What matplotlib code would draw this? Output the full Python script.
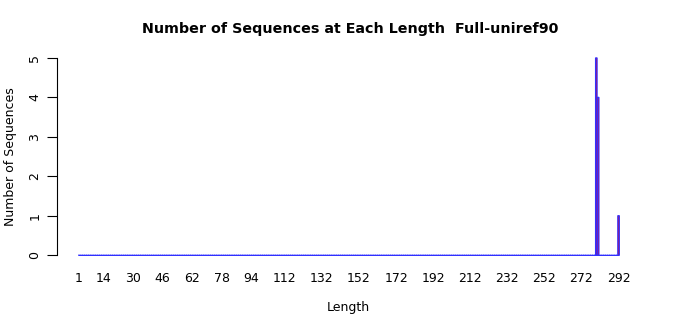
import matplotlib
matplotlib.use("Agg")
import matplotlib.pyplot as plt

# Data
lengths = list(range(1, 293))
nonzero_lengths = [280, 281, 292]
nonzero_counts = [5, 4, 1]
_lookup = dict(zip(nonzero_lengths, nonzero_counts))
counts = [_lookup.get(l, 0) for l in lengths]
tick_labels = [1, 14, 30, 46, 62, 78, 94, 112, 132, 152, 172, 192, 212, 232, 252, 272, 292]
y_ticks = [0, 1, 2, 3, 4, 5]

plt.rcParams['font.family'] = ['DejaVu Sans']

fig = plt.figure(figsize=(7.0, 3.15), dpi=100)
ax = fig.add_axes([56.6 / 700, (315 - 263) / 315, (641 - 56.6) / 700, (263 - 50) / 315])

bar_w = 1 / 1.2
edge_blue = '#3030ff'
ax.bar(lengths, counts, width=bar_w, color='#ff0000', edgecolor=edge_blue,
       linewidth=0.85, snap=False, antialiased=True)
# borders of the zero-height bars form a continuous baseline
ax.hlines(0, lengths[0] - bar_w / 2, lengths[-1] + bar_w / 2, color=edge_blue,
          linewidth=0.72, zorder=3)

ax.set_xlim(-11.1, 304.1)
ax.set_ylim(-0.2, 5.2)

for s in ['top', 'right', 'bottom']:
    ax.spines[s].set_visible(False)
ax.spines['left'].set_bounds(0, 5)
ax.spines['left'].set_linewidth(0.8)

ax.set_yticks(y_ticks)
ax.set_yticklabels([str(v) for v in y_ticks], rotation=90, va='center', fontsize=9)
ax.tick_params(axis='y', length=7, width=0.8, pad=4)

ax.set_xticks(tick_labels)
ax.set_xticklabels([str(v) for v in tick_labels], fontsize=9)
ax.tick_params(axis='x', length=0, pad=6.8)

ax.set_xlabel('Length', fontsize=9, labelpad=11.5)
ax.set_ylabel('Number of Sequences', fontsize=9, labelpad=8)
fig.suptitle('Number of Sequences at Each Length  Full-uniref90', fontsize=10.25,
             fontweight='bold', y=1 - 29 / 315, va='center')

fig.savefig('out.png', dpi=100)
